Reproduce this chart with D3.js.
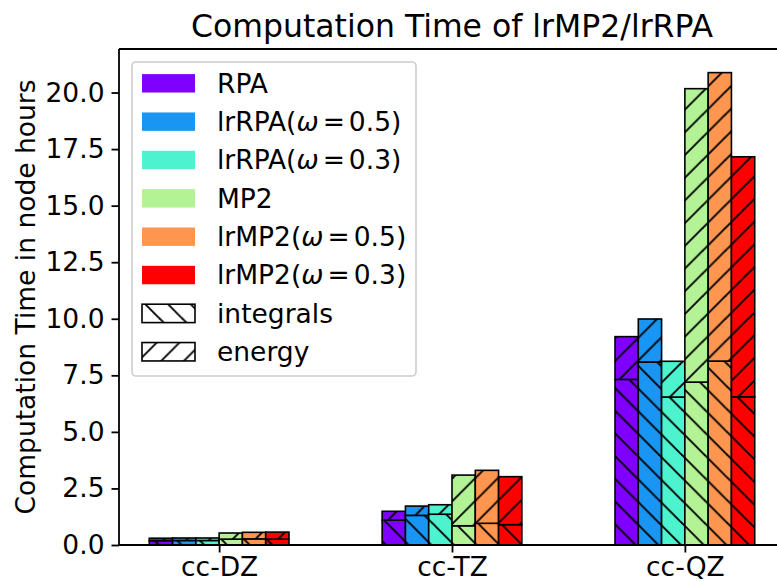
<!DOCTYPE html>
<html lang="en">
<head>
    <meta charset="UTF-8">
    <title>Computation Time of lrMP2/lrRPA</title>
    <style>
        body, html {
            margin: 0;
            background-color: #ffffff;
        }
        svg text {
            font-family: "DejaVu Sans", sans-serif;
            fill: #000;
        }
    </style>
    <script src="https://d3js.org/d3.v7.min.js"></script>
</head>
<body>
    <div id="chart"></div>
    <script>
        // basis sets on the x axis
        const categories = ["cc-DZ", "cc-TZ", "cc-QZ"];

        // methods (legend order) and their colours
        const methodNames = ["RPA", "lrRPA", "lrRPA", "MP2", "lrMP2", "lrMP2"];
        const omegas = [null, 0.5, 0.3, null, 0.5, 0.3];
        const colors = ["#8000ff", "#1996f3", "#4df3ce", "#b3f396", "#ff964f", "#ff0000"];

        // node hours per method, one value per basis set
        const integrals = [
            [0.19, 1.10, 7.32],
            [0.20, 1.31, 8.09],
            [0.20, 1.36, 6.54],
            [0.26, 0.85, 7.20],
            [0.27, 0.96, 8.13],
            [0.26, 0.90, 6.55]
        ];
        const energy = [
            [0.11, 0.39, 1.89],
            [0.11, 0.41, 1.90],
            [0.11, 0.42, 1.58],
            [0.27, 2.24, 12.97],
            [0.29, 2.34, 12.75],
            [0.31, 2.12, 10.61]
        ];

        const yTicks = [0, 2.5, 5, 7.5, 10, 12.5, 15, 17.5, 20];

        const width = 777, height = 581;
        const margin = { left: 119, top: 49, bottom: 545, right: 785 };
        const barW = 0.1;
        const nBars = methodNames.length;

        const svg = d3.select("#chart").append("svg")
            .attr("width", width)
            .attr("height", height);

        // hatch patterns, anchored to user space like matplotlib
        const p = 22.7;
        const defs = svg.append("defs");
        function hatch(id, back) {
            const pat = defs.append("pattern")
                .attr("id", id)
                .attr("patternUnits", "userSpaceOnUse")
                .attr("width", p).attr("height", p);
            const segs = back
                ? [[0, 0, p, p], [-2, p - 2, 2, p + 2], [p - 2, -2, p + 2, 2]]
                : [[0, p, p, 0], [-2, 2, 2, -2], [p - 2, p + 2, p + 2, p - 2]];
            segs.forEach(s => pat.append("line")
                .attr("x1", s[0]).attr("y1", s[1]).attr("x2", s[2]).attr("y2", s[3])
                .attr("stroke", "#000").attr("stroke-width", 1.9));
        }
        hatch("hatch-back", true);
        hatch("hatch-fwd", false);

        const lo = -(nBars / 2) * barW, hi = (categories.length - 1) + (nBars / 2) * barW;
        const x = d3.scaleLinear()
            .domain([lo - 0.05 * (hi - lo), hi + 0.05 * (hi - lo)])
            .range([margin.left, margin.right]);

        const maxTotal = d3.max(integrals.flatMap((row, i) => row.map((v, j) => v + energy[i][j])));
        const y = d3.scaleLinear()
            .domain([0, maxTotal * 1.05])
            .range([margin.bottom, margin.top]);

        // bars
        const barsG = svg.append("g");
        methodNames.forEach((m, i) => {
            categories.forEach((c, j) => {
                const x0 = x(j + (i - nBars / 2) * barW);
                const x1 = x(j + (i - nBars / 2 + 1) * barW);
                const segs = [
                    { b: 0, t: integrals[i][j], h: "hatch-back" },
                    { b: integrals[i][j], t: integrals[i][j] + energy[i][j], h: "hatch-fwd" }
                ];
                segs.forEach(s => {
                    barsG.append("rect")
                        .attr("x", x0).attr("y", y(s.t))
                        .attr("width", x1 - x0).attr("height", y(s.b) - y(s.t))
                        .attr("fill", colors[i]);
                    barsG.append("rect")
                        .attr("x", x0).attr("y", y(s.t))
                        .attr("width", x1 - x0).attr("height", y(s.b) - y(s.t))
                        .attr("fill", `url(#${s.h})`)
                        .attr("stroke", "#000").attr("stroke-width", 1.6);
                });
            });
        });

        // axes
        const fs = 26.5;
        const yAxis = svg.append("g")
            .attr("transform", `translate(${margin.left},0)`)
            .call(d3.axisLeft(y).tickValues(yTicks).tickFormat(d3.format(".1f")).tickSize(7.5).tickPadding(7));
        const xAxis = svg.append("g")
            .attr("transform", `translate(0,${margin.bottom})`)
            .call(d3.axisBottom(x).tickValues(d3.range(categories.length))
                .tickFormat(d => categories[d]).tickSize(7.5).tickPadding(5));
        [yAxis, xAxis].forEach(a => {
            a.select(".domain").remove();
            a.selectAll(".tick line").attr("stroke", "#000").attr("stroke-width", 1.8);
            a.selectAll(".tick text").style("font-size", fs + "px")
                .style("font-family", "'DejaVu Sans', sans-serif");
        });

        // spines
        const spine = svg.append("g").attr("fill", "none").attr("stroke", "#000").attr("stroke-width", 1.8);
        spine.append("line").attr("x1", margin.left).attr("x2", margin.left)
            .attr("y1", margin.top).attr("y2", margin.bottom);
        spine.append("line").attr("x1", margin.left).attr("x2", margin.right)
            .attr("y1", margin.bottom).attr("y2", margin.bottom);
        spine.append("line").attr("x1", margin.left).attr("x2", margin.right)
            .attr("y1", margin.top).attr("y2", margin.top);

        // title and y label
        svg.append("text")
            .attr("x", (margin.left + margin.right) / 2).attr("y", 37)
            .attr("text-anchor", "middle")
            .style("font-size", "31.5px")
            .text("Computation Time of lrMP2/lrRPA");
        svg.append("text")
            .attr("transform", `translate(35,${(margin.top + margin.bottom) / 2}) rotate(-90)`)
            .attr("text-anchor", "middle")
            .style("font-size", fs + "px")
            .text("Computation Time in node hours");

        // legend
        const lg = svg.append("g");
        lg.append("rect")
            .attr("x", 132).attr("y", 62).attr("width", 284).attr("height", 314)
            .attr("rx", 4)
            .attr("fill", "rgba(255,255,255,0.8)")
            .attr("stroke", "#cccccc").attr("stroke-width", 1.6);
        const entries = methodNames.map((m, i) => ({ name: m, omega: omegas[i], fill: colors[i] }))
            .concat([{ name: "integrals", hatch: "hatch-back" }, { name: "energy", hatch: "hatch-fwd" }]);
        entries.forEach((e, k) => {
            const cy = 83.3 + k * 38.35;
            if (e.hatch) {
                lg.append("rect").attr("x", 142).attr("y", cy - 9.2).attr("width", 53).attr("height", 18.4)
                    .attr("fill", `url(#${e.hatch})`).attr("stroke", "#000").attr("stroke-width", 1.6);
            } else {
                lg.append("rect").attr("x", 142).attr("y", cy - 9.2).attr("width", 53).attr("height", 18.4)
                    .attr("fill", e.fill);
            }
            const t = lg.append("text").attr("x", 217).attr("y", cy + 9.4)
                .style("font-size", fs + "px");
            if (e.omega === null || e.omega === undefined) {
                t.text(e.name);
            } else {
                // mathtext-like spacing around "="
                t.append("tspan").text(e.name + "(");
                t.append("tspan").style("font-style", "italic").text("ω");
                t.append("tspan").attr("dx", 4).text("=");
                t.append("tspan").attr("dx", 4).text(e.omega + ")");
            }
        });
    </script>
</body>
</html>
